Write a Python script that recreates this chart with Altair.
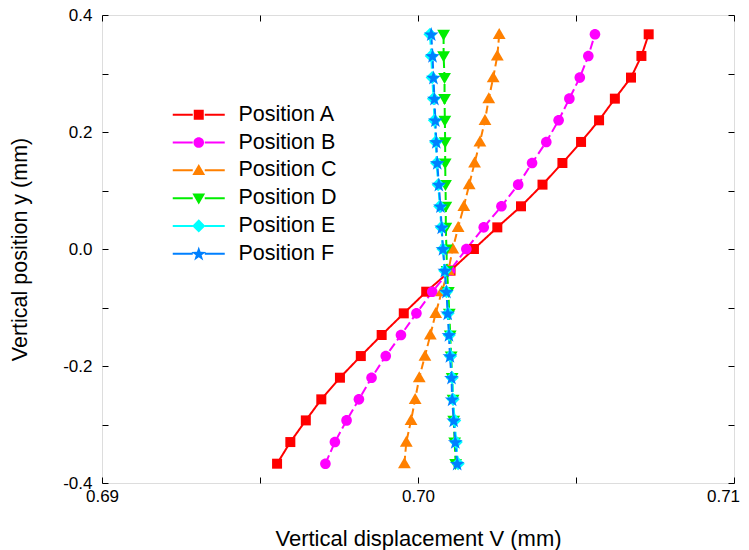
import altair as alt
import pandas as pd

# Vertical positions (mm), top to bottom
y_pos = [0.367, 0.330, 0.293, 0.257, 0.220, 0.183, 0.147, 0.110, 0.073, 0.037, 0.000,
         -0.037, -0.073, -0.110, -0.147, -0.183, -0.220, -0.257, -0.293, -0.330, -0.367]

pos_a = [0.70730, 0.70707, 0.70674, 0.70623, 0.70573, 0.70516, 0.70457, 0.70394, 0.70326, 0.70251, 0.70177,
         0.70103, 0.70026, 0.69955, 0.69885, 0.69819, 0.69753, 0.69694, 0.69645, 0.69596, 0.69554]
pos_b = [0.70560, 0.70539, 0.70512, 0.70479, 0.70445, 0.70406, 0.70361, 0.70317, 0.70264, 0.70208, 0.70153,
         0.70101, 0.70045, 0.69995, 0.69946, 0.69898, 0.69853, 0.69813, 0.69774, 0.69737, 0.69707]
pos_c = [0.70257, 0.70251, 0.70238, 0.70224, 0.70212, 0.70196, 0.70179, 0.70162, 0.70145, 0.70127, 0.70110,
         0.70096, 0.70075, 0.70056, 0.70039, 0.70022, 0.70004, 0.69991, 0.69978, 0.69963, 0.69957]
pos_d = [0.70081, 0.70081, 0.70084, 0.70084, 0.70085, 0.70086, 0.70086, 0.70087, 0.70088, 0.70088, 0.70090,
         0.70092, 0.70096, 0.70099, 0.70102, 0.70105, 0.70108, 0.70111, 0.70113, 0.70116, 0.70119]
pos_e = [0.70038, 0.70042, 0.70045, 0.70049, 0.70052, 0.70056, 0.70059, 0.70064, 0.70069, 0.70074, 0.70079,
         0.70085, 0.70090, 0.70095, 0.70099, 0.70103, 0.70108, 0.70111, 0.70116, 0.70121, 0.70127]
pos_f = [0.70042, 0.70046, 0.70049, 0.70052, 0.70055, 0.70058, 0.70061, 0.70066, 0.70071, 0.70075, 0.70079,
         0.70085, 0.70090, 0.70094, 0.70098, 0.70101, 0.70106, 0.70108, 0.70113, 0.70118, 0.70124]

names = ["Position A", "Position B", "Position C", "Position D", "Position E", "Position F"]
colors = ["#FF0000", "#FF00FF", "#FF8000", "#00EE00", "#00FFFF", "#0080FF"]
dashes = [[1, 0], [9, 4], [8, 4], [8, 4], [8, 4], [8, 4]]

x_major = [0.69, 0.70]
x_major_end = [0.71]
x_ticks = [0.69, 0.695, 0.70, 0.705, 0.71]
y_major = [-0.4, -0.2, 0.0, 0.2, 0.4]
y_ticks = [-0.4, -0.3, -0.2, -0.1, 0.0, 0.1, 0.2, 0.3, 0.4]

# marker shapes (unit box, drawn at size 400 -> 10 px per unit)
sq = "M-0.5,-0.5 L0.5,-0.5 L0.5,0.5 L-0.5,0.5 Z"
circ = "M-0.53,0 A0.53,0.53 0 1,0 0.53,0 A0.53,0.53 0 1,0 -0.53,0 Z"
tri_up = "M0,-0.64 L0.64,0.46 L-0.64,0.46 Z"
tri_dn = "M0,0.64 L0.64,-0.46 L-0.64,-0.46 Z"
diam = "M0,-0.66 L0.66,0 L0,0.66 L-0.66,0 Z"
star = ("M0,-0.72 L0.18,-0.19 L0.74,-0.18 L0.29,0.15 L0.45,0.68 L0,0.36 "
        "L-0.45,0.68 L-0.29,0.15 L-0.74,-0.18 L-0.18,-0.19 Z")
markers = [sq, circ, tri_up, tri_dn, diam, star]
seg = "M-2.6,-0.1 L-0.6,-0.1 L-0.6,0.1 L-2.6,0.1 Z M0.6,-0.1 L2.6,-0.1 L2.6,0.1 L0.6,0.1 Z "
legend_shapes = [seg + m for m in markers]

rows = []
for name, vals in zip(names, [pos_a, pos_b, pos_c, pos_d, pos_e, pos_f]):
    for yy, vv in zip(y_pos, vals):
        rows.append({"series": name, "y": yy, "v": vv})
df = pd.DataFrame(rows)

FONT = "Liberation Sans"
xs = alt.Scale(domain=[0.69, 0.71], nice=False, zero=False)
ys = alt.Scale(domain=[-0.4, 0.4], nice=False, zero=False)
cs = alt.Scale(domain=names, range=colors)

y_label_expr = "datum.value < 0 ? '-' + format(-datum.value, '.1f') : format(datum.value, '.1f')"

base = alt.Chart(df)

lines = base.mark_line(strokeWidth=2).encode(
    x=alt.X("v:Q", scale=xs, axis=alt.Axis(
        orient="bottom", values=x_major, format=".2f", ticks=False, domain=False, grid=False,
        labelFlush=False, labelOverlap=False,
        labelFont=FONT, labelFontSize=17, labelColor="black", labelPadding=5,
        title="Vertical displacement V (mm)", titleFont=FONT, titleFontSize=22,
        titleFontWeight="normal", titleColor="black", titlePadding=24)),
    y=alt.Y("y:Q", scale=ys, axis=alt.Axis(
        orient="left", values=y_major, labelExpr=y_label_expr, ticks=False, domain=False, grid=False,
        labelFlush=False, labelOverlap=False,
        labelFont=FONT, labelFontSize=17, labelColor="black", labelPadding=10,
        title="Vertical position y (mm)", titleFont=FONT, titleFontSize=21.5,
        titleFontWeight="normal", titleColor="black", titlePadding=31)),
    color=alt.Color("series:N", scale=cs, legend=None),
    strokeDash=alt.StrokeDash("series:N", scale=alt.Scale(domain=names, range=dashes), legend=None),
    order=alt.Order("y:Q"),
)

points = base.mark_point(filled=True, size=400, opacity=1, strokeWidth=0).encode(
    x=alt.X("v:Q", scale=xs, axis=alt.Axis(
        orient="bottom", values=x_ticks, labels=False, domain=False, grid=False,
        ticks=True, tickSize=6, tickColor="black", offset=-6, title=None)),
    y=alt.Y("y:Q", scale=ys, axis=alt.Axis(
        orient="left", values=y_ticks, labels=False, domain=False, grid=False,
        ticks=True, tickSize=6, tickColor="black", offset=-6, title=None)),
    color=alt.Color("series:N", scale=cs, legend=None),
    shape=alt.Shape("series:N", scale=alt.Scale(domain=names, range=markers), legend=None),
)

legend_cfg = dict(
    orient="none", legendX=86, legendY=89, title=None, symbolSize=400,
    labelFont=FONT, labelFontSize=21.5, labelColor="black", labelOffset=29,
    rowPadding=4.8, padding=0, symbolStrokeWidth=0)

empty = base.transform_filter("datum.v > 1")

carrier = empty.mark_point(filled=True, opacity=1, strokeWidth=0).encode(
    x=alt.X("v:Q", scale=xs, axis=alt.Axis(
        orient="top", values=x_ticks, labels=False, domain=False, grid=False,
        ticks=True, tickSize=6, tickColor="black", offset=-6, title=None)),
    y=alt.Y("y:Q", scale=ys, axis=alt.Axis(
        orient="right", values=y_ticks, labels=False, domain=False, grid=False,
        ticks=True, tickSize=6, tickColor="black", offset=-6, title=None)),
    color=alt.Color("series:N", scale=alt.Scale(domain=names, range=colors),
                    legend=alt.Legend(**legend_cfg)),
    shape=alt.Shape("series:N", scale=alt.Scale(domain=names, range=legend_shapes),
                    legend=alt.Legend(**legend_cfg)),
)

# last x label, nudged left so it stays inside the page
end_label = empty.mark_point(opacity=0).encode(
    x=alt.X("v:Q", scale=xs, axis=alt.Axis(
        orient="bottom", values=x_major_end, format=".2f", ticks=False, domain=False, grid=False,
        labelFlush=False, labelOverlap=False, labelOffset=-11,
        labelFont=FONT, labelFontSize=17, labelColor="black", labelPadding=5, title=None)),
    y=alt.Y("y:Q", scale=ys, axis=None),
)

chart = alt.layer(lines, points, carrier, end_label).resolve_scale(
    color="independent", shape="independent"
).resolve_axis(
    x="independent", y="independent"
).properties(
    width=632, height=468,
    autosize=alt.AutoSizeParams(type="none"),
    padding={"left": 94, "top": 7, "right": 7, "bottom": 70},
).configure_view(
    stroke="black", strokeWidth=1.3
).configure(background="white")

chart.save("out.html", embed_options={"renderer": "svg", "actions": False})
